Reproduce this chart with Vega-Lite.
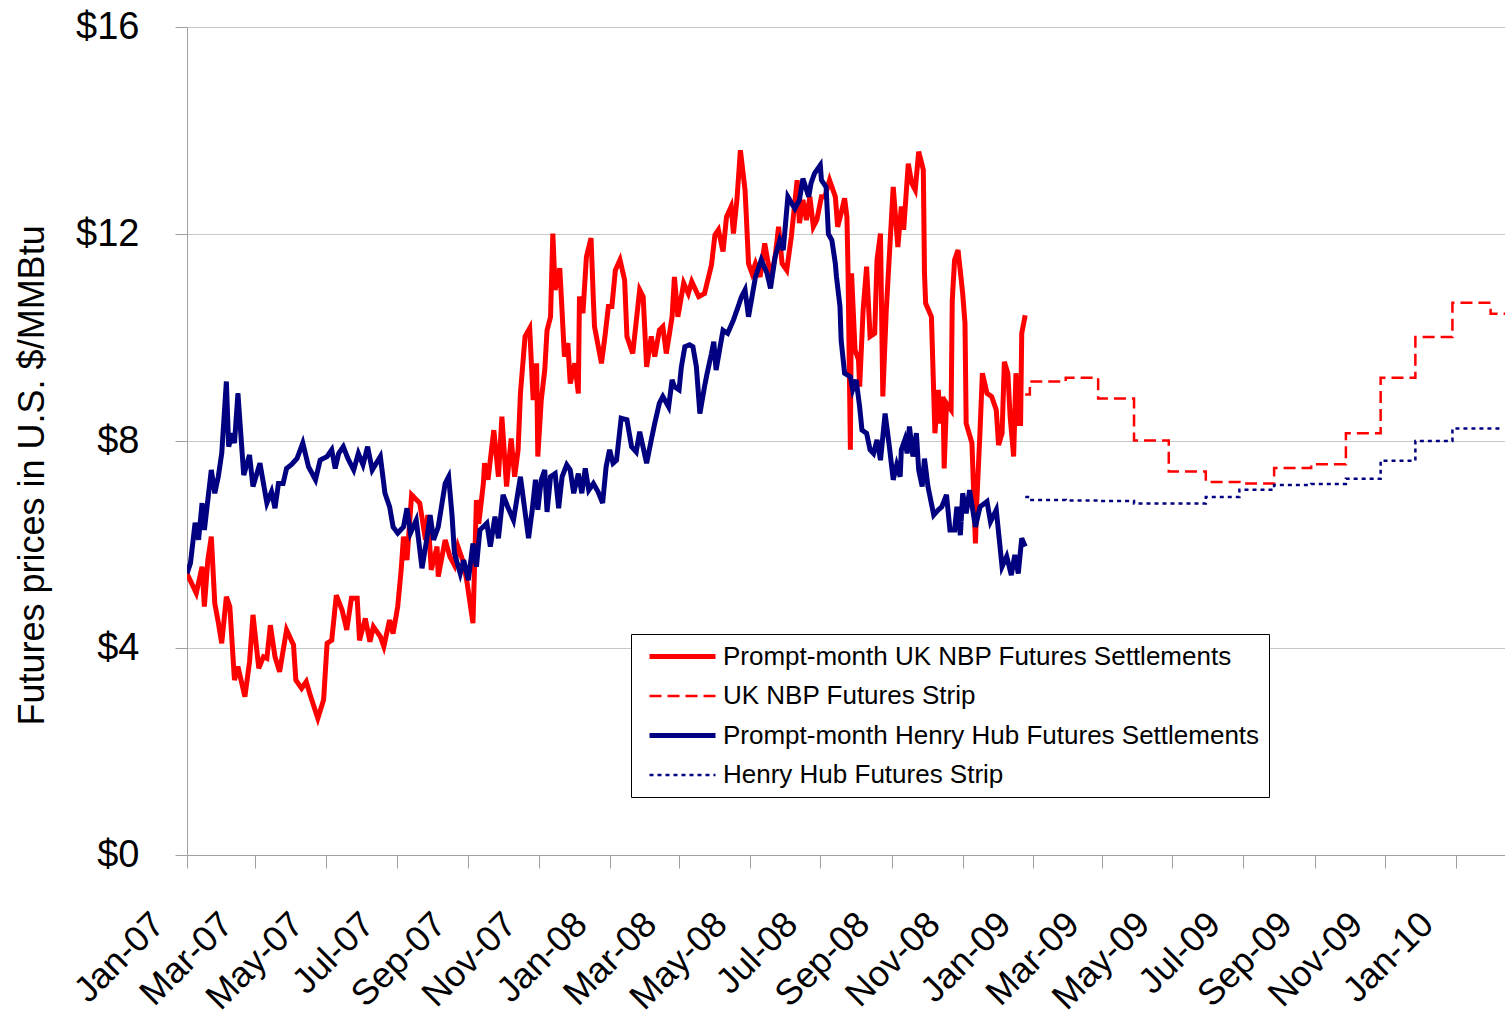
{
  "$schema": "https://vega.github.io/schema/vega-lite/v6.json",
  "width": 1318,
  "height": 828,
  "autosize": {"type": "none"},
  "padding": {"left": 187, "top": 27, "right": 0, "bottom": 161},
  "background": "white",
  "config": {
    "font": "Liberation Sans",
    "view": {"stroke": null},
    "axis": {"labelColor": "black", "titleColor": "black", "domainColor": "#a0a0a0", "tickColor": "#a0a0a0", "gridColor": "#c8c8c8", "domainWidth": 1, "tickWidth": 1, "gridWidth": 1},
    "legend": {"orient": "none", "legendX": 444, "legendY": 607, "strokeColor": "black", "fillColor": "white", "padding": 9, "rowPadding": 13, "labelFontSize": 26, "labelColor": "black", "labelLimit": 900, "symbolType": "M-3,0H3", "symbolSize": 484, "symbolStrokeWidth": 3.5, "symbolOffset": 29, "labelOffset": 27}
  },
  "datasets": {
    "nbp": [
      {"date": "2007-01-01", "price": 5.44}, {"date": "2007-01-05", "price": 5.25}, {"date": "2007-01-09", "price": 5.06}, {"date": "2007-01-14", "price": 5.57},
      {"date": "2007-01-16", "price": 4.80}, {"date": "2007-01-19", "price": 5.70}, {"date": "2007-01-22", "price": 6.15}, {"date": "2007-01-25", "price": 4.86},
      {"date": "2007-01-28", "price": 4.50}, {"date": "2007-01-31", "price": 4.09}, {"date": "2007-02-04", "price": 4.99}, {"date": "2007-02-07", "price": 4.80},
      {"date": "2007-02-11", "price": 3.38}, {"date": "2007-02-14", "price": 3.64}, {"date": "2007-02-20", "price": 3.06}, {"date": "2007-02-24", "price": 3.73},
      {"date": "2007-02-27", "price": 4.64}, {"date": "2007-03-04", "price": 3.61}, {"date": "2007-03-08", "price": 3.83}, {"date": "2007-03-11", "price": 3.80},
      {"date": "2007-03-14", "price": 4.44}, {"date": "2007-03-18", "price": 3.83}, {"date": "2007-03-22", "price": 3.54}, {"date": "2007-03-28", "price": 4.35},
      {"date": "2007-04-03", "price": 4.06}, {"date": "2007-04-05", "price": 3.38}, {"date": "2007-04-10", "price": 3.22}, {"date": "2007-04-14", "price": 3.35},
      {"date": "2007-04-17", "price": 3.12}, {"date": "2007-04-24", "price": 2.64}, {"date": "2007-04-29", "price": 3.00}, {"date": "2007-05-02", "price": 4.09},
      {"date": "2007-05-06", "price": 4.15}, {"date": "2007-05-10", "price": 5.02}, {"date": "2007-05-15", "price": 4.73}, {"date": "2007-05-19", "price": 4.35},
      {"date": "2007-05-23", "price": 4.96}, {"date": "2007-05-28", "price": 4.96}, {"date": "2007-05-30", "price": 4.15}, {"date": "2007-06-04", "price": 4.57},
      {"date": "2007-06-08", "price": 4.12}, {"date": "2007-06-11", "price": 4.41}, {"date": "2007-06-17", "price": 4.22}, {"date": "2007-06-20", "price": 4.03},
      {"date": "2007-06-25", "price": 4.54}, {"date": "2007-06-28", "price": 4.28}, {"date": "2007-07-02", "price": 4.80}, {"date": "2007-07-05", "price": 5.51},
      {"date": "2007-07-07", "price": 6.15}, {"date": "2007-07-10", "price": 5.70}, {"date": "2007-07-14", "price": 6.96}, {"date": "2007-07-21", "price": 6.80},
      {"date": "2007-07-26", "price": 6.09}, {"date": "2007-07-28", "price": 6.57}, {"date": "2007-07-31", "price": 5.51}, {"date": "2007-08-05", "price": 5.96},
      {"date": "2007-08-06", "price": 5.38}, {"date": "2007-08-12", "price": 6.09}, {"date": "2007-08-16", "price": 5.77}, {"date": "2007-08-20", "price": 5.60},
      {"date": "2007-08-23", "price": 5.96}, {"date": "2007-08-28", "price": 5.64}, {"date": "2007-08-31", "price": 5.25}, {"date": "2007-09-05", "price": 4.48},
      {"date": "2007-09-08", "price": 6.86}, {"date": "2007-09-10", "price": 6.40}, {"date": "2007-09-14", "price": 7.18}, {"date": "2007-09-15", "price": 7.57},
      {"date": "2007-09-18", "price": 7.25}, {"date": "2007-09-23", "price": 8.21}, {"date": "2007-09-27", "price": 7.31}, {"date": "2007-09-30", "price": 8.47},
      {"date": "2007-10-04", "price": 7.12}, {"date": "2007-10-08", "price": 8.05}, {"date": "2007-10-11", "price": 7.31}, {"date": "2007-10-14", "price": 7.83},
      {"date": "2007-10-16", "price": 8.92}, {"date": "2007-10-20", "price": 10.02}, {"date": "2007-10-24", "price": 10.18}, {"date": "2007-10-27", "price": 8.79},
      {"date": "2007-10-30", "price": 9.50}, {"date": "2007-10-31", "price": 7.70}, {"date": "2007-11-03", "price": 8.79}, {"date": "2007-11-06", "price": 9.37},
      {"date": "2007-11-08", "price": 10.14}, {"date": "2007-11-11", "price": 10.40}, {"date": "2007-11-13", "price": 12.01}, {"date": "2007-11-15", "price": 10.92},
      {"date": "2007-11-19", "price": 11.34}, {"date": "2007-11-23", "price": 9.63}, {"date": "2007-11-26", "price": 9.89}, {"date": "2007-11-28", "price": 9.11},
      {"date": "2007-12-02", "price": 9.50}, {"date": "2007-12-05", "price": 8.92}, {"date": "2007-12-06", "price": 10.79}, {"date": "2007-12-09", "price": 10.47},
      {"date": "2007-12-12", "price": 11.56}, {"date": "2007-12-16", "price": 11.92}, {"date": "2007-12-18", "price": 10.72}, {"date": "2007-12-19", "price": 10.21},
      {"date": "2007-12-25", "price": 9.50}, {"date": "2007-12-28", "price": 10.02}, {"date": "2007-12-31", "price": 10.60}, {"date": "2008-01-03", "price": 10.60},
      {"date": "2008-01-06", "price": 11.30}, {"date": "2008-01-10", "price": 11.50}, {"date": "2008-01-14", "price": 11.11}, {"date": "2008-01-16", "price": 10.02},
      {"date": "2008-01-21", "price": 9.69}, {"date": "2008-01-27", "price": 10.92}, {"date": "2008-01-30", "price": 10.79}, {"date": "2008-02-02", "price": 9.43},
      {"date": "2008-02-06", "price": 10.02}, {"date": "2008-02-09", "price": 9.63}, {"date": "2008-02-13", "price": 10.14}, {"date": "2008-02-16", "price": 10.21},
      {"date": "2008-02-19", "price": 9.69}, {"date": "2008-02-24", "price": 10.40}, {"date": "2008-02-26", "price": 11.17}, {"date": "2008-02-29", "price": 10.40},
      {"date": "2008-03-05", "price": 11.05}, {"date": "2008-03-09", "price": 10.85}, {"date": "2008-03-12", "price": 11.08}, {"date": "2008-03-18", "price": 10.79},
      {"date": "2008-03-23", "price": 10.85}, {"date": "2008-03-29", "price": 11.40}, {"date": "2008-04-01", "price": 11.98}, {"date": "2008-04-04", "price": 12.08},
      {"date": "2008-04-08", "price": 11.66}, {"date": "2008-04-11", "price": 12.33}, {"date": "2008-04-15", "price": 12.53}, {"date": "2008-04-17", "price": 12.01},
      {"date": "2008-04-20", "price": 12.66}, {"date": "2008-04-23", "price": 13.62}, {"date": "2008-04-27", "price": 12.85}, {"date": "2008-04-28", "price": 12.40},
      {"date": "2008-04-30", "price": 11.43}, {"date": "2008-05-03", "price": 11.24}, {"date": "2008-05-06", "price": 11.43}, {"date": "2008-05-10", "price": 11.17},
      {"date": "2008-05-14", "price": 11.82}, {"date": "2008-05-17", "price": 11.43}, {"date": "2008-05-20", "price": 11.24}, {"date": "2008-05-23", "price": 11.56},
      {"date": "2008-05-26", "price": 12.14}, {"date": "2008-05-29", "price": 11.43}, {"date": "2008-06-02", "price": 11.30}, {"date": "2008-06-06", "price": 11.95},
      {"date": "2008-06-11", "price": 13.04}, {"date": "2008-06-13", "price": 12.21}, {"date": "2008-06-16", "price": 12.66}, {"date": "2008-06-19", "price": 12.27},
      {"date": "2008-06-22", "price": 12.72}, {"date": "2008-06-25", "price": 12.14}, {"date": "2008-06-28", "price": 12.27}, {"date": "2008-07-02", "price": 12.72},
      {"date": "2008-07-05", "price": 12.72}, {"date": "2008-07-09", "price": 13.04}, {"date": "2008-07-14", "price": 12.72}, {"date": "2008-07-16", "price": 12.14},
      {"date": "2008-07-19", "price": 12.40}, {"date": "2008-07-22", "price": 12.69}, {"date": "2008-07-24", "price": 12.33}, {"date": "2008-07-25", "price": 11.24},
      {"date": "2008-07-27", "price": 7.83}, {"date": "2008-07-28", "price": 11.24}, {"date": "2008-07-31", "price": 9.76}, {"date": "2008-08-03", "price": 9.57},
      {"date": "2008-08-04", "price": 9.05}, {"date": "2008-08-07", "price": 10.53}, {"date": "2008-08-10", "price": 11.37}, {"date": "2008-08-13", "price": 10.02},
      {"date": "2008-08-17", "price": 10.08}, {"date": "2008-08-19", "price": 11.50}, {"date": "2008-08-22", "price": 12.01}, {"date": "2008-08-24", "price": 8.86},
      {"date": "2008-08-27", "price": 10.53}, {"date": "2008-09-02", "price": 12.91}, {"date": "2008-09-06", "price": 11.75}, {"date": "2008-09-09", "price": 12.53},
      {"date": "2008-09-11", "price": 12.08}, {"date": "2008-09-15", "price": 13.36}, {"date": "2008-09-18", "price": 12.98}, {"date": "2008-09-21", "price": 12.85},
      {"date": "2008-09-24", "price": 13.59}, {"date": "2008-09-28", "price": 13.24}, {"date": "2008-09-29", "price": 11.24}, {"date": "2008-09-30", "price": 10.66},
      {"date": "2008-10-05", "price": 10.40}, {"date": "2008-10-08", "price": 8.15}, {"date": "2008-10-11", "price": 8.99}, {"date": "2008-10-12", "price": 8.34},
      {"date": "2008-10-15", "price": 8.86}, {"date": "2008-10-16", "price": 7.47}, {"date": "2008-10-18", "price": 8.73}, {"date": "2008-10-22", "price": 8.60},
      {"date": "2008-10-23", "price": 10.72}, {"date": "2008-10-25", "price": 11.50}, {"date": "2008-10-28", "price": 11.69}, {"date": "2008-11-01", "price": 10.85},
      {"date": "2008-11-03", "price": 10.27}, {"date": "2008-11-04", "price": 8.34}, {"date": "2008-11-09", "price": 7.96}, {"date": "2008-11-12", "price": 6.02},
      {"date": "2008-11-13", "price": 6.73}, {"date": "2008-11-16", "price": 8.21}, {"date": "2008-11-18", "price": 9.31}, {"date": "2008-11-22", "price": 8.92},
      {"date": "2008-11-26", "price": 8.86}, {"date": "2008-11-30", "price": 8.60}, {"date": "2008-12-02", "price": 7.92}, {"date": "2008-12-05", "price": 8.15},
      {"date": "2008-12-07", "price": 9.53}, {"date": "2008-12-10", "price": 9.31}, {"date": "2008-12-12", "price": 8.47}, {"date": "2008-12-15", "price": 7.70},
      {"date": "2008-12-17", "price": 9.31}, {"date": "2008-12-19", "price": 8.34}, {"date": "2008-12-21", "price": 8.34}, {"date": "2008-12-22", "price": 10.08},
      {"date": "2008-12-25", "price": 10.43}
    ],
    "nbpStrip": [
      {"date": "2008-12-25", "price": 8.90}, {"date": "2008-12-29", "price": 9.15}, {"date": "2009-01-29", "price": 9.22}, {"date": "2009-02-26", "price": 8.82},
      {"date": "2009-03-29", "price": 8.01}, {"date": "2009-04-28", "price": 7.41}, {"date": "2009-05-30", "price": 7.21}, {"date": "2009-06-28", "price": 7.18},
      {"date": "2009-07-28", "price": 7.48}, {"date": "2009-08-29", "price": 7.55}, {"date": "2009-09-28", "price": 8.15}, {"date": "2009-10-28", "price": 9.22},
      {"date": "2009-11-27", "price": 10.01}, {"date": "2009-12-29", "price": 10.67}, {"date": "2010-01-31", "price": 10.46}, {"date": "2010-02-14", "price": 10.46}
    ],
    "hh": [
      {"date": "2007-01-01", "price": 5.44}, {"date": "2007-01-04", "price": 5.64}, {"date": "2007-01-08", "price": 6.42}, {"date": "2007-01-11", "price": 6.09},
      {"date": "2007-01-14", "price": 6.80}, {"date": "2007-01-16", "price": 6.28}, {"date": "2007-01-22", "price": 7.44}, {"date": "2007-01-25", "price": 6.99},
      {"date": "2007-01-28", "price": 7.31}, {"date": "2007-01-31", "price": 7.76}, {"date": "2007-02-04", "price": 9.15}, {"date": "2007-02-06", "price": 7.89},
      {"date": "2007-02-09", "price": 8.15}, {"date": "2007-02-11", "price": 7.96}, {"date": "2007-02-14", "price": 8.92}, {"date": "2007-02-19", "price": 7.34},
      {"date": "2007-02-24", "price": 7.73}, {"date": "2007-02-27", "price": 7.12}, {"date": "2007-03-05", "price": 7.57}, {"date": "2007-03-11", "price": 6.80},
      {"date": "2007-03-15", "price": 7.02}, {"date": "2007-03-18", "price": 6.70}, {"date": "2007-03-21", "price": 7.18}, {"date": "2007-03-25", "price": 7.18},
      {"date": "2007-03-28", "price": 7.47}, {"date": "2007-04-01", "price": 7.54}, {"date": "2007-04-06", "price": 7.66}, {"date": "2007-04-11", "price": 7.96},
      {"date": "2007-04-16", "price": 7.50}, {"date": "2007-04-22", "price": 7.25}, {"date": "2007-04-26", "price": 7.63}, {"date": "2007-05-02", "price": 7.70},
      {"date": "2007-05-06", "price": 7.83}, {"date": "2007-05-09", "price": 7.47}, {"date": "2007-05-12", "price": 7.76}, {"date": "2007-05-16", "price": 7.89},
      {"date": "2007-05-20", "price": 7.66}, {"date": "2007-05-25", "price": 7.44}, {"date": "2007-05-29", "price": 7.76}, {"date": "2007-06-02", "price": 7.54},
      {"date": "2007-06-06", "price": 7.89}, {"date": "2007-06-10", "price": 7.44}, {"date": "2007-06-17", "price": 7.70}, {"date": "2007-06-21", "price": 6.99},
      {"date": "2007-06-25", "price": 6.73}, {"date": "2007-06-28", "price": 6.34}, {"date": "2007-07-02", "price": 6.22}, {"date": "2007-07-07", "price": 6.34},
      {"date": "2007-07-10", "price": 6.70}, {"date": "2007-07-13", "price": 6.22}, {"date": "2007-07-18", "price": 6.47}, {"date": "2007-07-23", "price": 5.54},
      {"date": "2007-07-27", "price": 6.09}, {"date": "2007-07-30", "price": 6.57}, {"date": "2007-08-02", "price": 6.09}, {"date": "2007-08-06", "price": 6.34},
      {"date": "2007-08-12", "price": 7.18}, {"date": "2007-08-15", "price": 7.31}, {"date": "2007-08-18", "price": 6.54}, {"date": "2007-08-20", "price": 5.83},
      {"date": "2007-08-25", "price": 5.44}, {"date": "2007-08-28", "price": 5.70}, {"date": "2007-09-01", "price": 5.31}, {"date": "2007-09-05", "price": 6.02},
      {"date": "2007-09-08", "price": 5.57}, {"date": "2007-09-11", "price": 6.28}, {"date": "2007-09-17", "price": 6.41}, {"date": "2007-09-20", "price": 5.96},
      {"date": "2007-09-24", "price": 6.54}, {"date": "2007-09-27", "price": 6.12}, {"date": "2007-10-01", "price": 6.96}, {"date": "2007-10-05", "price": 6.73},
      {"date": "2007-10-10", "price": 6.47}, {"date": "2007-10-16", "price": 7.31}, {"date": "2007-10-23", "price": 6.12}, {"date": "2007-10-26", "price": 6.63},
      {"date": "2007-10-29", "price": 7.25}, {"date": "2007-10-31", "price": 6.67}, {"date": "2007-11-03", "price": 7.25}, {"date": "2007-11-06", "price": 7.44},
      {"date": "2007-11-08", "price": 6.63}, {"date": "2007-11-11", "price": 7.31}, {"date": "2007-11-15", "price": 7.37}, {"date": "2007-11-18", "price": 6.70},
      {"date": "2007-11-21", "price": 7.31}, {"date": "2007-11-25", "price": 7.54}, {"date": "2007-11-28", "price": 7.44}, {"date": "2007-12-01", "price": 6.99},
      {"date": "2007-12-05", "price": 7.37}, {"date": "2007-12-08", "price": 6.99}, {"date": "2007-12-11", "price": 7.47}, {"date": "2007-12-14", "price": 7.05},
      {"date": "2007-12-18", "price": 7.18}, {"date": "2007-12-22", "price": 7.02}, {"date": "2007-12-26", "price": 6.80}, {"date": "2007-12-29", "price": 7.50},
      {"date": "2008-01-01", "price": 7.83}, {"date": "2008-01-04", "price": 7.57}, {"date": "2008-01-07", "price": 7.63}, {"date": "2008-01-11", "price": 8.44},
      {"date": "2008-01-16", "price": 8.41}, {"date": "2008-01-20", "price": 7.89}, {"date": "2008-01-24", "price": 7.79}, {"date": "2008-01-27", "price": 8.18},
      {"date": "2008-02-02", "price": 7.57}, {"date": "2008-02-06", "price": 8.02}, {"date": "2008-02-09", "price": 8.34}, {"date": "2008-02-13", "price": 8.73},
      {"date": "2008-02-16", "price": 8.86}, {"date": "2008-02-21", "price": 8.66}, {"date": "2008-02-24", "price": 9.18}, {"date": "2008-02-26", "price": 9.05},
      {"date": "2008-03-01", "price": 8.99}, {"date": "2008-03-03", "price": 9.43}, {"date": "2008-03-06", "price": 9.82}, {"date": "2008-03-10", "price": 9.86},
      {"date": "2008-03-13", "price": 9.82}, {"date": "2008-03-16", "price": 9.43}, {"date": "2008-03-19", "price": 8.53}, {"date": "2008-03-23", "price": 9.05},
      {"date": "2008-03-25", "price": 9.28}, {"date": "2008-03-29", "price": 9.69}, {"date": "2008-03-31", "price": 9.92}, {"date": "2008-04-02", "price": 9.37},
      {"date": "2008-04-05", "price": 9.76}, {"date": "2008-04-08", "price": 10.14}, {"date": "2008-04-12", "price": 10.08}, {"date": "2008-04-17", "price": 10.34},
      {"date": "2008-04-20", "price": 10.53}, {"date": "2008-04-24", "price": 10.79}, {"date": "2008-04-27", "price": 10.92}, {"date": "2008-04-30", "price": 10.40},
      {"date": "2008-05-06", "price": 11.17}, {"date": "2008-05-11", "price": 11.50}, {"date": "2008-05-16", "price": 11.24}, {"date": "2008-05-19", "price": 10.95},
      {"date": "2008-05-23", "price": 11.56}, {"date": "2008-05-27", "price": 11.88}, {"date": "2008-05-30", "price": 11.69}, {"date": "2008-06-03", "price": 12.72},
      {"date": "2008-06-09", "price": 12.49}, {"date": "2008-06-13", "price": 12.66}, {"date": "2008-06-16", "price": 13.07}, {"date": "2008-06-21", "price": 12.72},
      {"date": "2008-06-23", "price": 12.98}, {"date": "2008-06-26", "price": 13.17}, {"date": "2008-07-01", "price": 13.33}, {"date": "2008-07-02", "price": 13.04},
      {"date": "2008-07-06", "price": 12.91}, {"date": "2008-07-08", "price": 12.00}, {"date": "2008-07-11", "price": 11.88}, {"date": "2008-07-14", "price": 11.43},
      {"date": "2008-07-15", "price": 11.17}, {"date": "2008-07-18", "price": 10.60}, {"date": "2008-07-19", "price": 9.95}, {"date": "2008-07-22", "price": 9.31},
      {"date": "2008-07-27", "price": 9.24}, {"date": "2008-07-29", "price": 8.99}, {"date": "2008-08-01", "price": 9.18}, {"date": "2008-08-04", "price": 8.66},
      {"date": "2008-08-06", "price": 8.21}, {"date": "2008-08-10", "price": 8.15}, {"date": "2008-08-13", "price": 7.83}, {"date": "2008-08-16", "price": 7.76},
      {"date": "2008-08-19", "price": 8.02}, {"date": "2008-08-22", "price": 7.63}, {"date": "2008-08-26", "price": 8.53}, {"date": "2008-08-30", "price": 7.83},
      {"date": "2008-09-02", "price": 7.25}, {"date": "2008-09-05", "price": 7.54}, {"date": "2008-09-08", "price": 7.31}, {"date": "2008-09-09", "price": 7.83},
      {"date": "2008-09-12", "price": 8.02}, {"date": "2008-09-14", "price": 7.76}, {"date": "2008-09-16", "price": 8.28}, {"date": "2008-09-19", "price": 7.70},
      {"date": "2008-09-22", "price": 8.15}, {"date": "2008-09-24", "price": 7.44}, {"date": "2008-09-27", "price": 7.12}, {"date": "2008-09-29", "price": 7.66},
      {"date": "2008-10-02", "price": 7.12}, {"date": "2008-10-07", "price": 6.57}, {"date": "2008-10-11", "price": 6.67}, {"date": "2008-10-14", "price": 6.73},
      {"date": "2008-10-18", "price": 6.96}, {"date": "2008-10-21", "price": 6.28}, {"date": "2008-10-25", "price": 6.28}, {"date": "2008-10-27", "price": 6.73},
      {"date": "2008-10-30", "price": 6.18}, {"date": "2008-11-01", "price": 6.99}, {"date": "2008-11-04", "price": 6.60}, {"date": "2008-11-07", "price": 7.05},
      {"date": "2008-11-12", "price": 6.34}, {"date": "2008-11-16", "price": 6.73}, {"date": "2008-11-22", "price": 6.83}, {"date": "2008-11-25", "price": 6.44},
      {"date": "2008-11-30", "price": 6.67}, {"date": "2008-12-05", "price": 5.57}, {"date": "2008-12-09", "price": 5.77}, {"date": "2008-12-13", "price": 5.41},
      {"date": "2008-12-16", "price": 5.80}, {"date": "2008-12-19", "price": 5.44}, {"date": "2008-12-22", "price": 6.12}, {"date": "2008-12-25", "price": 5.96}
    ],
    "hhStrip": [
      {"date": "2008-12-25", "price": 6.92}, {"date": "2008-12-29", "price": 6.86}, {"date": "2009-01-29", "price": 6.85}, {"date": "2009-02-26", "price": 6.84},
      {"date": "2009-03-29", "price": 6.79}, {"date": "2009-04-28", "price": 6.79}, {"date": "2009-05-30", "price": 6.92}, {"date": "2009-06-28", "price": 7.06},
      {"date": "2009-07-28", "price": 7.15}, {"date": "2009-08-29", "price": 7.17}, {"date": "2009-09-28", "price": 7.27}, {"date": "2009-10-28", "price": 7.62},
      {"date": "2009-11-27", "price": 8.00}, {"date": "2009-12-29", "price": 8.24}, {"date": "2010-01-31", "price": 8.24}, {"date": "2010-02-08", "price": 8.24}
    ]
  },
  "encoding": {
    "x": {
      "field": "date", "type": "temporal",
      "scale": {"type": "utc", "nice": false, "domain": [{"year": 2007, "month": 1, "date": 1, "utc": true}, {"year": 2010, "month": 2, "date": 12, "hours": 10, "utc": true}]},
      "axis": {"title": null, "format": "%b-%y", "tickCount": {"interval": "month", "step": 2}, "labelAngle": -45, "labelAlign": "right", "labelBaseline": "alphabetic", "labelFontSize": 36, "labelPadding": 58, "labelOffset": -21, "tickSize": 13, "grid": false, "labelOverlap": false, "labelFlush": false, "labelBound": false}
    },
    "y": {
      "field": "price", "type": "quantitative",
      "scale": {"domain": [0, 16], "nice": false},
      "axis": {"title": "Futures prices in U.S. $/MMBtu", "values": [0, 4, 8, 12, 16], "format": "$.0f", "labelFontSize": 38, "labelPadding": 36, "tickSize": 12, "grid": true, "titleFontSize": 36, "titleFontWeight": "normal", "titleAngle": 270, "titleX": -144, "titleY": 698, "titleAlign": "left", "titleBaseline": "alphabetic"}
    }
  },
  "layer": [
    {
      "data": {"name": "nbp"},
      "mark": {"type": "line", "strokeWidth": 5, "interpolate": "linear", "clip": true},
      "encoding": {
        "color": {"datum": "Prompt-month  UK NBP Futures Settlements", "type": "nominal",
          "scale": {"domain": ["Prompt-month  UK NBP Futures Settlements", "UK NBP Futures Strip", "Prompt-month Henry Hub Futures Settlements", "Henry Hub Futures Strip"], "range": ["#ff0000", "#ff0000", "#000080", "#000080"]},
          "legend": {"title": null, "symbolStrokeWidth": {"expr": "(indexof(isString(datum) ? datum : (datum ? datum.value : ''), 'Settlements') >= 0 ? 5 : 2.5)"}}},
        "strokeDash": {"datum": "Prompt-month  UK NBP Futures Settlements", "type": "nominal",
          "scale": {"domain": ["Prompt-month  UK NBP Futures Settlements", "UK NBP Futures Strip", "Prompt-month Henry Hub Futures Settlements", "Henry Hub Futures Strip"], "range": [[1, 0], [12, 6], [1, 0], [4, 4]]},
          "legend": {"title": null, "symbolStrokeWidth": {"expr": "(indexof(isString(datum) ? datum : (datum ? datum.value : ''), 'Settlements') >= 0 ? 5 : 2.5)"}}}
      }
    },
    {
      "data": {"name": "nbpStrip"},
      "mark": {"type": "line", "strokeWidth": 2.5, "interpolate": "step-after", "clip": true},
      "encoding": {
        "color": {"datum": "UK NBP Futures Strip", "type": "nominal",
          "scale": {"domain": ["Prompt-month  UK NBP Futures Settlements", "UK NBP Futures Strip", "Prompt-month Henry Hub Futures Settlements", "Henry Hub Futures Strip"], "range": ["#ff0000", "#ff0000", "#000080", "#000080"]},
          "legend": {"title": null, "symbolStrokeWidth": {"expr": "(indexof(isString(datum) ? datum : (datum ? datum.value : ''), 'Settlements') >= 0 ? 5 : 2.5)"}}},
        "strokeDash": {"datum": "UK NBP Futures Strip", "type": "nominal",
          "scale": {"domain": ["Prompt-month  UK NBP Futures Settlements", "UK NBP Futures Strip", "Prompt-month Henry Hub Futures Settlements", "Henry Hub Futures Strip"], "range": [[1, 0], [12, 6], [1, 0], [4, 4]]},
          "legend": {"title": null, "symbolStrokeWidth": {"expr": "(indexof(isString(datum) ? datum : (datum ? datum.value : ''), 'Settlements') >= 0 ? 5 : 2.5)"}}}
      }
    },
    {
      "data": {"name": "hh"},
      "mark": {"type": "line", "strokeWidth": 5, "interpolate": "linear", "clip": true},
      "encoding": {
        "color": {"datum": "Prompt-month Henry Hub Futures Settlements", "type": "nominal",
          "scale": {"domain": ["Prompt-month  UK NBP Futures Settlements", "UK NBP Futures Strip", "Prompt-month Henry Hub Futures Settlements", "Henry Hub Futures Strip"], "range": ["#ff0000", "#ff0000", "#000080", "#000080"]},
          "legend": {"title": null, "symbolStrokeWidth": {"expr": "(indexof(isString(datum) ? datum : (datum ? datum.value : ''), 'Settlements') >= 0 ? 5 : 2.5)"}}},
        "strokeDash": {"datum": "Prompt-month Henry Hub Futures Settlements", "type": "nominal",
          "scale": {"domain": ["Prompt-month  UK NBP Futures Settlements", "UK NBP Futures Strip", "Prompt-month Henry Hub Futures Settlements", "Henry Hub Futures Strip"], "range": [[1, 0], [12, 6], [1, 0], [4, 4]]},
          "legend": {"title": null, "symbolStrokeWidth": {"expr": "(indexof(isString(datum) ? datum : (datum ? datum.value : ''), 'Settlements') >= 0 ? 5 : 2.5)"}}}
      }
    },
    {
      "data": {"name": "hhStrip"},
      "mark": {"type": "line", "strokeWidth": 2.5, "interpolate": "step-after", "clip": true},
      "encoding": {
        "color": {"datum": "Henry Hub Futures Strip", "type": "nominal",
          "scale": {"domain": ["Prompt-month  UK NBP Futures Settlements", "UK NBP Futures Strip", "Prompt-month Henry Hub Futures Settlements", "Henry Hub Futures Strip"], "range": ["#ff0000", "#ff0000", "#000080", "#000080"]},
          "legend": {"title": null, "symbolStrokeWidth": {"expr": "(indexof(isString(datum) ? datum : (datum ? datum.value : ''), 'Settlements') >= 0 ? 5 : 2.5)"}}},
        "strokeDash": {"datum": "Henry Hub Futures Strip", "type": "nominal",
          "scale": {"domain": ["Prompt-month  UK NBP Futures Settlements", "UK NBP Futures Strip", "Prompt-month Henry Hub Futures Settlements", "Henry Hub Futures Strip"], "range": [[1, 0], [12, 6], [1, 0], [4, 4]]},
          "legend": {"title": null, "symbolStrokeWidth": {"expr": "(indexof(isString(datum) ? datum : (datum ? datum.value : ''), 'Settlements') >= 0 ? 5 : 2.5)"}}}
      }
    }
  ]
}
